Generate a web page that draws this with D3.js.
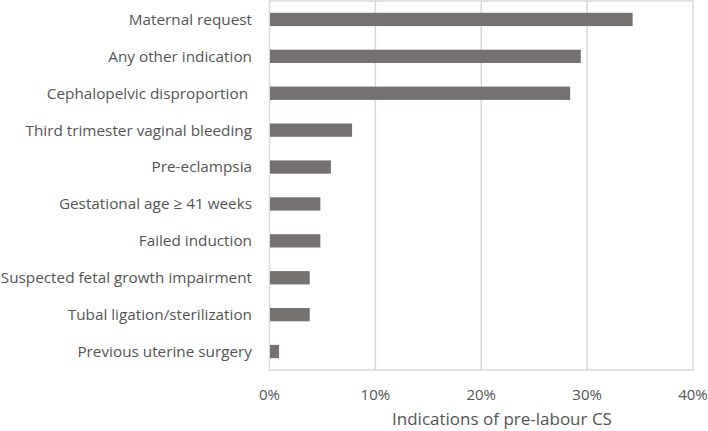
<!DOCTYPE html>
<html><head><meta charset="utf-8">
<script src="https://cdn.jsdelivr.net/npm/d3@7"></script>
<style>
body{margin:0;background:#fff;}
svg{display:block;}
text{font-family:"Open Sans",sans-serif;fill:#555555;}
</style></head>
<body><svg id="c" width="708" height="431"></svg>
<script>
const categories = ["Maternal request","Any other indication","Cephalopelvic disproportion ","Third trimester vaginal bleeding","Pre-eclampsia","Gestational age \u2265 41 weeks","Failed induction","Suspected fetal growth impairment","Tubal ligation/sterilization","Previous uterine surgery"];
const values = [34.3, 29.4, 28.4, 7.8, 5.8, 4.8, 4.8, 3.8, 3.8, 0.9];
const ticks = [0, 10, 20, 30, 40];
const tickLabels = ["0%","10%","20%","30%","40%"];
const axisTitle = "Indications of pre-labour CS";

const svg = d3.select("#c");
const L = 269.5, R = 693, T = 1, B = 370;
const x = d3.scaleLinear().domain([0, 40]).range([L, R]);
const y = d3.scaleBand().domain(categories).range([T, B]).paddingInner(0.64).paddingOuter(0.32);

// gridlines
svg.append("g").selectAll("line").data(ticks.slice(1, -1)).join("line")
  .attr("x1", d => x(d)).attr("x2", d => x(d)).attr("y1", T).attr("y2", B)
  .attr("stroke", "#d9d9d9").attr("stroke-width", 1.5);
// border
svg.append("rect").attr("x", L).attr("y", T).attr("width", R - L).attr("height", B - T)
  .attr("fill", "none").attr("stroke", "#d9d9d9").attr("stroke-width", 1.5);

// bars
svg.append("g").selectAll("rect").data(values).join("rect")
  .attr("x", x(0) + 0.5).attr("y", (d, i) => y(categories[i]))
  .attr("width", d => x(d) - x(0) - 0.5).attr("height", y.bandwidth())
  .attr("fill", "#767171");

// category labels
svg.append("g").selectAll("text").data(categories).join("text")
  .attr("x", 252).attr("y", d => y(d) + y.bandwidth() / 2).attr("dy", "0.35em")
  .attr("text-anchor", "end").style("white-space", "pre").attr("font-size", 15.3).text(d => d);

// x tick labels
svg.append("g").selectAll("text").data(ticks).join("text")
  .attr("x", d => x(d)).attr("y", 395).attr("dy", "0.35em")
  .attr("text-anchor", "middle").attr("font-size", 15).text((d, i) => tickLabels[i]);

svg.append("text").attr("x", 502).attr("y", 419).attr("dy", "0.35em")
  .attr("text-anchor", "middle").attr("font-size", 17).text(axisTitle);
</script></body></html>
